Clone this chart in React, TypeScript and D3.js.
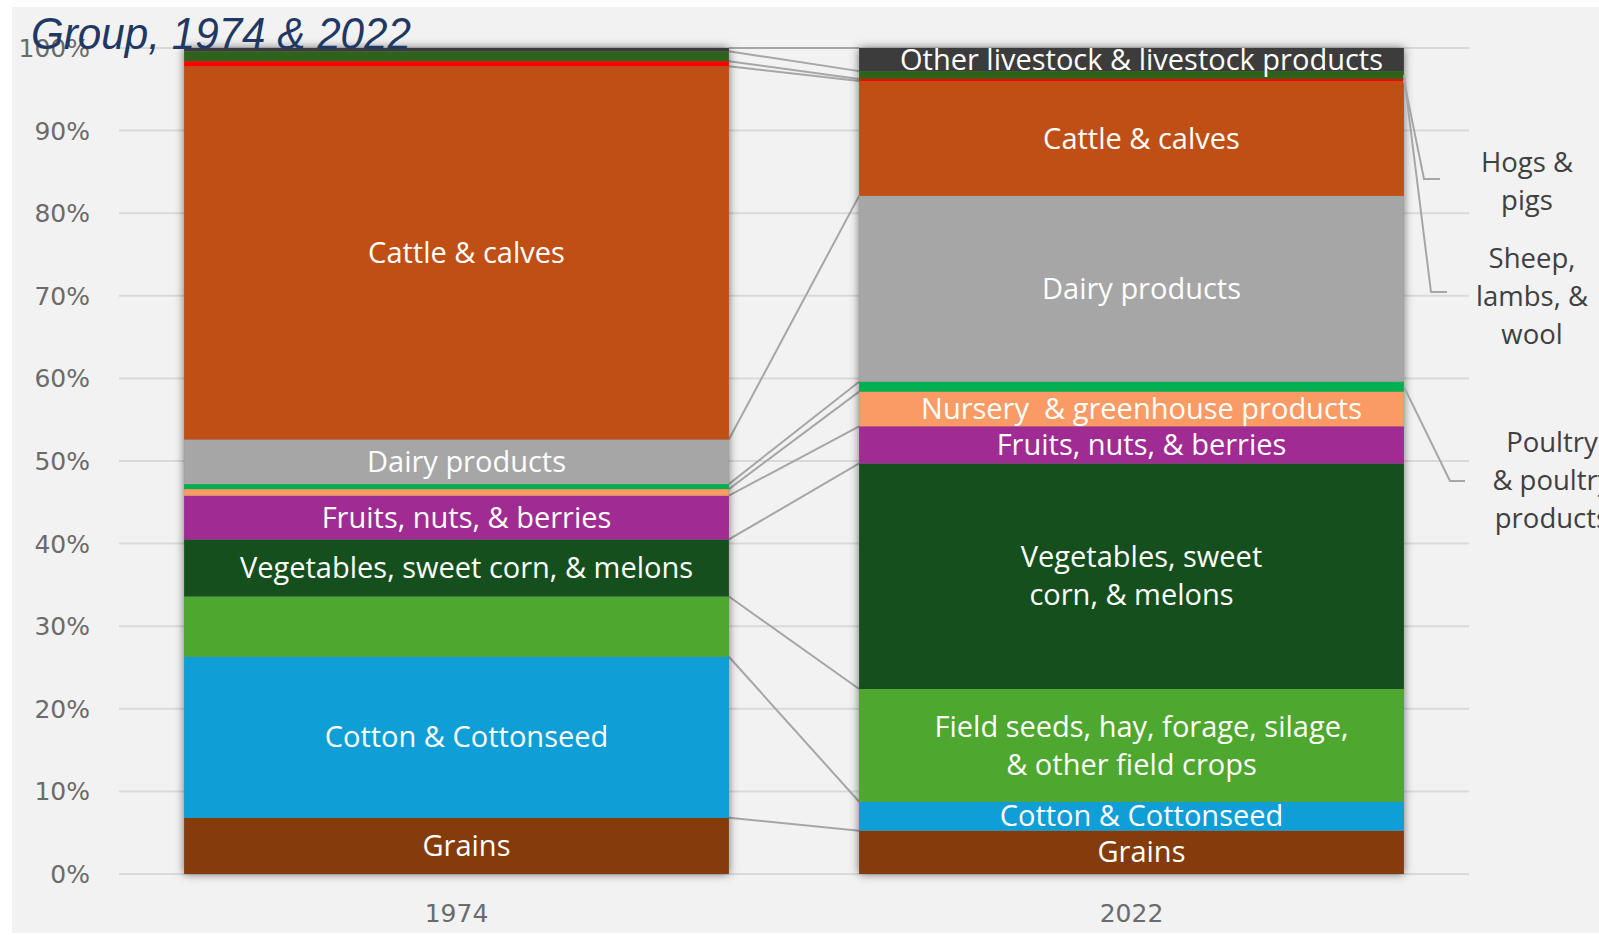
import React from "react";
import * as d3 from "d3";

const years = ["1974", "2022"];
const commodities = [
  "Grains",
  "Cotton & Cottonseed",
  "Field seeds, hay, forage, silage, & other field crops",
  "Vegetables, sweet corn, & melons",
  "Fruits, nuts, & berries",
  "Nursery & greenhouse products",
  "Poultry & poultry products",
  "Dairy products",
  "Cattle & calves",
  "Hogs & pigs",
  "Sheep, lambs, & wool",
  "Other livestock & livestock products",
];
const shares1974 = [6.8, 19.5, 7.3, 6.9, 5.3, 0.8, 0.6, 5.4, 45.2, 0.6, 1.2, 0.4];
const shares2022 = [5.25, 3.5, 13.65, 27.3, 4.5, 4.2, 1.2, 22.5, 13.9, 0.25, 0.95, 2.8];
const colors = [
  "#843c0c", "#0f9ed5", "#4ea72e", "#154f1e", "#a02b93", "#fa9a64",
  "#00b050", "#a6a6a6", "#c04f15", "#ff0000", "#2f631b", "#3c3c3c",
];
const labels1974: string[][] = [
  ["Grains"], ["Cotton & Cottonseed"], [], ["Vegetables, sweet corn, & melons"],
  ["Fruits, nuts, & berries"], [], [], ["Dairy products"], ["Cattle & calves"], [], [], [],
];
const labels2022: string[][] = [
  ["Grains"], ["Cotton & Cottonseed"], ["Field seeds, hay, forage, silage,", "& other field crops"],
  ["Vegetables, sweet", "corn, & melons"], ["Fruits, nuts, & berries"],
  ["Nursery  & greenhouse products"], [], ["Dairy products"], ["Cattle & calves"], [], [],
  ["Other livestock & livestock products"],
];
const yTicks = [0, 10, 20, 30, 40, 50, 60, 70, 80, 90, 100];
const titleText = "Group, 1974 & 2022";

// side annotations for 2022 small series
const annotations = [
  { series: 9, lines: ["Hogs &", "pigs"], elbow: [1424, 179], end: 1440, tx: 1527, ty: 162 },
  { series: 10, lines: ["Sheep,", "lambs, &", "wool"], elbow: [1431, 292], end: 1447, tx: 1532, ty: 258 },
  { series: 6, lines: ["Poultry", "& poultry", "products"], elbow: [1450, 481], end: 1465, tx: 1552, ty: 442 },
];

export default function App() {
  const W = 1599, H = 935;
  const y = d3.scaleLinear().domain([0, 100]).range([874, 48]);
  const x = d3.scaleBand<string>().domain(years).range([119, 1469]).paddingInner(0.193).paddingOuter(0.0965);
  const bw = x.bandwidth();

  const rows = years.map((yr, j) => {
    const o: any = { year: yr };
    commodities.forEach((c, i) => (o[c] = j === 0 ? shares1974[i] : shares2022[i]));
    return o;
  });
  const stacked = d3.stack<any>().keys(commodities)(rows);
  const allLabels = [labels1974, labels2022];

  const lineH = 38;
  const fontLbl = "'Open Sans', 'Noto Sans', sans-serif";
  const fontAxis = "'DejaVu Sans', sans-serif";

  return (
    <svg width={W} height={H} style={{ position: "absolute", left: 0, top: 0, background: "#fff" }}>
      <defs>
        <filter id="shadow" x="-10%" y="-10%" width="120%" height="120%">
          <feDropShadow dx="0" dy="0" stdDeviation="5" floodColor="#000" floodOpacity="0.55" />
        </filter>
      </defs>
      <rect x={12} y={7} width={W - 12} height={H - 9} fill="#f2f2f2" />

      {/* gridlines */}
      {yTicks.map((t) => (
        <line key={t} x1={119} x2={1469} y1={y(t)} y2={y(t)} stroke="#d9d9d9" strokeWidth={2} />
      ))}
      {/* y tick labels */}
      {yTicks.map((t) => (
        <text key={"l" + t} x={90} y={y(t)} dy="0.36em" textAnchor="end" fontFamily={fontAxis}
          fontSize={25} fill="#6b6b6b">{t + "%"}</text>
      ))}

      {/* series lines */}
      {stacked.map((s, i) => (
        <line key={"sl" + i}
          x1={(x(years[0]) as number) + bw} y1={y(s[0][1])}
          x2={x(years[1]) as number} y2={y(s[1][1])}
          stroke="#a6a6a6" strokeWidth={2} />
      ))}

      {/* bar shadows */}
      {years.map((yr) => (
        <rect key={"sh" + yr} x={x(yr)} y={y(100)} width={bw} height={y(0) - y(100)} fill="#888" filter="url(#shadow)" />
      ))}

      {/* bar segments */}
      {stacked.map((s, i) =>
        s.map((d, j) => (
          <rect key={i + "-" + j} x={x(years[j])} y={y(d[1])} width={bw}
            height={Math.max(0, y(d[0]) - y(d[1]))} fill={colors[i]} />
        ))
      )}

      {/* segment labels */}
      {stacked.map((s, i) =>
        s.map((d, j) => {
          const lines = allLabels[j][i];
          if (!lines.length) return null;
          const cx = (x(years[j]) as number) + bw / 2;
          const cy = y((d[0] + d[1]) / 2);
          return (
            <text key={"t" + i + "-" + j} textAnchor="middle" fontFamily={fontLbl}
              fontSize={29} fill="#fff" style={{ whiteSpace: "pre" }}>
              {lines.map((ln, k) => {
                const off = lines.length > 1 && k === lines.length - 1 ? 0 : 10;
                return (
                  <tspan key={k} x={cx + off} y={cy + (k - (lines.length - 1) / 2) * lineH} dy="0.35em">{ln}</tspan>
                );
              })}
            </text>
          );
        })
      )}

      {/* annotations */}
      {annotations.map((a, k) => {
        const d = stacked[a.series][1];
        const sx = (x(years[1]) as number) + bw;
        const sy = y((d[0] + d[1]) / 2);
        return (
          <g key={"a" + k}>
            <polyline points={`${sx},${sy} ${a.elbow[0]},${a.elbow[1]} ${a.end},${a.elbow[1]}`}
              fill="none" stroke="#a6a6a6" strokeWidth={2} />
            <text textAnchor="middle" fontFamily={fontLbl} fontSize={27.5} fill="#404040">
              {a.lines.map((ln, m) => (
                <tspan key={m} x={a.tx} y={a.ty + m * lineH} dy="0.35em">{ln}</tspan>
              ))}
            </text>
          </g>
        );
      })}

      {/* x axis labels */}
      {years.map((yr) => (
        <text key={"x" + yr} x={(x(yr) as number) + bw / 2} y={913} dy="0.35em" textAnchor="middle"
          fontFamily={fontAxis} fontSize={25} fill="#6b6b6b">{yr}</text>
      ))}

      {/* title (second line) */}
      <text x={31} y={49} fontFamily="'Liberation Sans Narrow', 'Liberation Sans', sans-serif" fontStyle="italic"
        fontSize={44} fill="#1f3864" textLength={380} lengthAdjust="spacingAndGlyphs">{titleText}</text>
    </svg>
  );
}
